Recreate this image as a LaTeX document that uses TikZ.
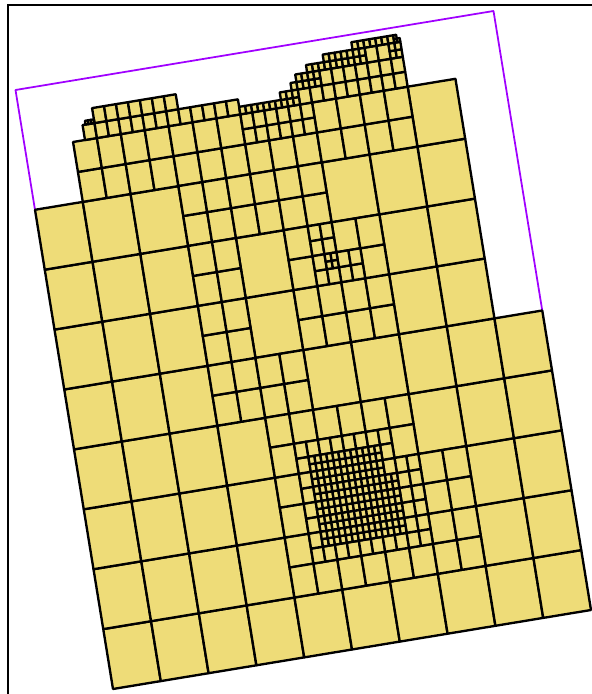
\documentclass[tikz,border=0pt]{standalone}
\usepackage{tikz}
\definecolor{meshYellow}{HTML}{EEDC78}
\definecolor{domPurple}{HTML}{A000FF}
\newcommand{\meshblock}[5]{%
  \foreach \ii in {1,...,#3} \foreach \jj in {1,...,#4} {
    \pgfmathsetmacro\xl{#1+(\ii-1)*#5}
    \pgfmathsetmacro\yl{#2+(\jj-1)*#5}
    \pgfmathsetmacro\xr{\xl+#5}
    \pgfmathsetmacro\yr{\yl+#5}
    \draw[cell] (\xl,\yl) -- (\xr,\yl) -- (\xr,\yr) -- (\xl,\yr) -- cycle;
  }}

\begin{document}
\begin{tikzpicture}[x=0.03cm, y=0.03cm,
      cell/.style={draw=black, fill=meshYellow, line width=2pt, line join=round},
      outline/.style={draw=domPurple, line width=1.5pt, line join=round},
      frameline/.style={draw=black, line width=2pt}]
    \useasboundingbox (0,0) rectangle (592,694);
    \draw[frameline] (8,0) -- (8,689) -- (592,689);
    \begin{scope}[cm={47.8,7.9,-9.75,59.9,(113,5)}]
    \draw[outline] (0,8) -- (0,10) -- (10,10) -- (10,5);
    % level 0
    \foreach \xa/\ya/\nx/\ny in {0/0/3/8, 3/0/1/4, 4/0/6/1, 8/1/2/4, 7/3/1/4,
        8/5/1/4, 6/7/2/1, 5/4/2/1, 4/5/1/2}
      {\meshblock{\xa}{\ya}{\nx}{\ny}{1}}
    % level 1
    \foreach \xa/\ya/\nx/\ny in {1/8/7/2, 4.5/8/3/1, 6/8/4/2, 3/7/6/2, 3/4/2/6,
        4/4/2/2, 4/3.5/6/1, 4/1.5/1/4, 4/1/6/1, 7/1/2/4, 6.5/3/1/1, 5/5/4/2,
        5/6/1/2, 6/6.5/1/1, 6.5/6/1/2}
      {\meshblock{\xa}{\ya}{\nx}{\ny}{0.5}}
    % level 2
    \foreach \xa/\ya/\nx/\ny in {4.5/8.5/6/2, 1.25/9/13/1, 1.5/9.25/7/1, 5.75/9/9/1,
        6.25/9.25/7/1, 7.25/9.5/2/1, 4.5/1.5/1/8, 4.75/1.5/7/1, 4.75/3.25/7/1,
        6.5/1.5/2/6, 6.25/2.75/1/2, 6/6/2/2, 5.5/6.5/2/2, 5.5/6/1/2, 5.75/6/1/1}
      {\meshblock{\xa}{\ya}{\nx}{\ny}{0.25}}
    % level 3
    \foreach \xa/\ya/\nx/\ny in {4.75/2.75/12/4, 4.75/1.75/14/8, 5.75/6.25/2/2,
        4.5/9/10/1, 5.375/9.125/3/1, 5.625/9.25/5/1, 5.75/9.375/4/1, 6/9.5/10/1,
        6.375/9.625/7/1, 7/9.75/7/1, 7.75/9.5/2/2}
      {\meshblock{\xa}{\ya}{\nx}{\ny}{0.125}}
    % level 4
    \foreach \xa/\ya/\nx/\ny in {7.875/9.75/2/1, 7.875/9.8125/1/1, 1.3125/9.25/3/1}
      {\meshblock{\xa}{\ya}{\nx}{\ny}{0.0625}}
    \end{scope}
  \end{tikzpicture}
\end{document}
